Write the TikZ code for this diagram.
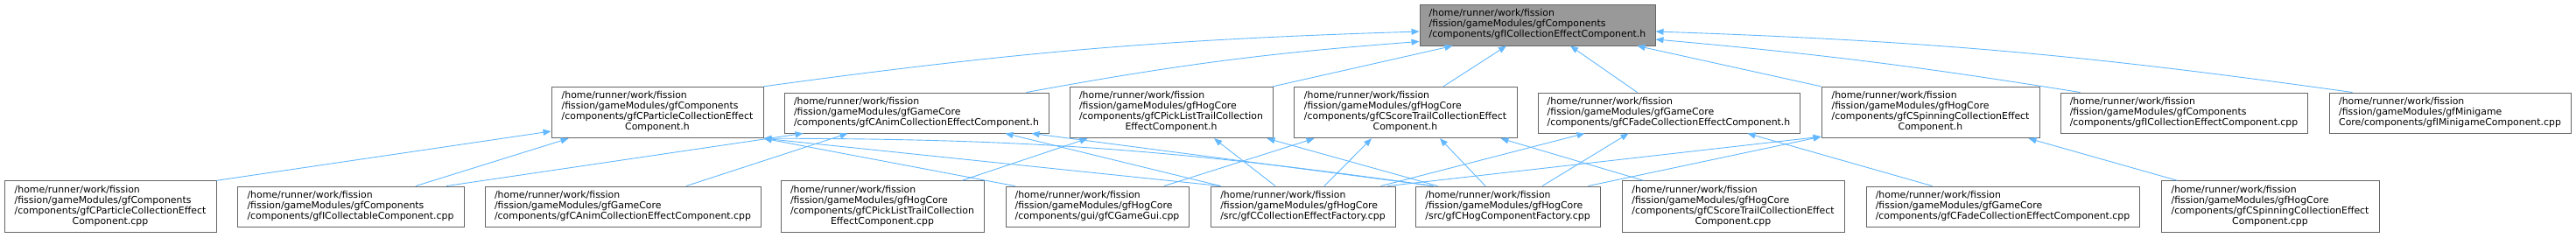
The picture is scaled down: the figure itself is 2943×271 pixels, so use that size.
\documentclass[tikz,border=0pt]{standalone}
\usepackage{fontspec}
\setmainfont{DejaVu Sans}
\usetikzlibrary{arrows.meta}
\definecolor{edgeblue}{HTML}{63B8FF}
\definecolor{boxgray}{HTML}{666666}
\definecolor{maingray}{HTML}{999999}
\newcommand{\flines}[1]{\begin{tabular}{@{}l@{}}#1\end{tabular}}
\newcommand{\lastc}[1]{\multicolumn{1}{@{}c@{}}{#1}}

\begin{document}
\begin{tikzpicture}[x=1pt, y=-1pt, >={Triangle[length=9pt,width=7pt]},
  file/.style={draw=boxgray, fill=white, line width=0.9pt, inner sep=0pt,
    font=\fontsize{10.9}{12}\selectfont},
  mainfile/.style={file, fill=maingray, minimum height=47pt},
  h3/.style={file, minimum height=46pt},
  h4/.style={file, minimum height=58.5pt},
  inc/.style={->, draw=edgeblue, line width=0.9pt}]
  \useasboundingbox (0,0) rectangle (2943,271);

  \node[mainfile, minimum width=269pt] (main) at (1756.5,28.5)
    {\flines{/home/runner/work/fission\\/fission/gameModules/gfComponents\\/components/gfICollectionEffectComponent.h}};

  \node[h4, minimum width=242pt] (parth) at (751,128.5)
    {\flines{/home/runner/work/fission\\/fission/gameModules/gfComponents\\/components/gfCParticleCollectionEffect\\\lastc{Component.h}}};
  \node[h3, minimum width=302pt] (animh) at (1047,129)
    {\flines{/home/runner/work/fission\\/fission/gameModules/gfGameCore\\/components/gfCAnimCollectionEffectComponent.h}};
  \node[h4, minimum width=232pt] (pickh) at (1338,128.5)
    {\flines{/home/runner/work/fission\\/fission/gameModules/gfHogCore\\/components/gfCPickListTrailCollection\\\lastc{EffectComponent.h}}};
  \node[h4, minimum width=255pt] (scoreh) at (1605.5,128.5)
    {\flines{/home/runner/work/fission\\/fission/gameModules/gfHogCore\\/components/gfCScoreTrailCollectionEffect\\\lastc{Component.h}}};
  \node[h3, minimum width=299pt] (fadeh) at (1906.5,129)
    {\flines{/home/runner/work/fission\\/fission/gameModules/gfGameCore\\/components/gfCFadeCollectionEffectComponent.h}};
  \node[h4, minimum width=249pt] (spinh) at (2205.5,128.5)
    {\flines{/home/runner/work/fission\\/fission/gameModules/gfHogCore\\/components/gfCSpinningCollectionEffect\\\lastc{Component.h}}};
  \node[h3, minimum width=282pt] (colcpp) at (2495,129)
    {\flines{/home/runner/work/fission\\/fission/gameModules/gfComponents\\/components/gfICollectionEffectComponent.cpp}};
  \node[h3, minimum width=276pt] (minicpp) at (2799,129)
    {\flines{/home/runner/work/fission\\/fission/gameModules/gfMinigame\\Core/components/gfIMinigameComponent.cpp}};

  \node[h4, minimum width=242pt] (partcpp) at (126,236)
    {\flines{/home/runner/work/fission\\/fission/gameModules/gfComponents\\/components/gfCParticleCollectionEffect\\\lastc{Component.cpp}}};
  \node[h3, minimum width=259pt] (collcpp) at (400.5,236)
    {\flines{/home/runner/work/fission\\/fission/gameModules/gfComponents\\/components/gfICollectableComponent.cpp}};
  \node[h3, minimum width=315pt] (animcpp) at (711.5,236)
    {\flines{/home/runner/work/fission\\/fission/gameModules/gfGameCore\\/components/gfCAnimCollectionEffectComponent.cpp}};
  \node[h4, minimum width=232pt] (pickcpp) at (1008,236)
    {\flines{/home/runner/work/fission\\/fission/gameModules/gfHogCore\\/components/gfCPickListTrailCollection\\\lastc{EffectComponent.cpp}}};
  \node[h3, minimum width=209pt] (guicpp) at (1253.5,236)
    {\flines{/home/runner/work/fission\\/fission/gameModules/gfHogCore\\/components/gui/gfCGameGui.cpp}};
  \node[h3, minimum width=211pt] (efact) at (1488.5,236)
    {\flines{/home/runner/work/fission\\/fission/gameModules/gfHogCore\\/src/gfCCollectionEffectFactory.cpp}};
  \node[h3, minimum width=211pt] (hfact) at (1722.5,236)
    {\flines{/home/runner/work/fission\\/fission/gameModules/gfHogCore\\/src/gfCHogComponentFactory.cpp}};
  \node[h4, minimum width=254pt] (scorecpp) at (1980,236)
    {\flines{/home/runner/work/fission\\/fission/gameModules/gfHogCore\\/components/gfCScoreTrailCollectionEffect\\\lastc{Component.cpp}}};
  \node[h3, minimum width=312pt] (fadecpp) at (2288,236)
    {\flines{/home/runner/work/fission\\/fission/gameModules/gfGameCore\\/components/gfCFadeCollectionEffectComponent.cpp}};
  \node[h4, minimum width=249pt] (spincpp) at (2593.5,236)
    {\flines{/home/runner/work/fission\\/fission/gameModules/gfHogCore\\/components/gfCSpinningCollectionEffect\\\lastc{Component.cpp}}};

  \draw[inc] (parth.north east) to[bend left=3] ([yshift=-7.5pt]main.west);
  \draw[inc] ([xshift=-26pt]animh.north east) to[bend left=3] ([yshift=5pt]main.south west);
  \draw[inc] (pickh.north east) -- ([xshift=38pt]main.south west);
  \draw[inc] ([xshift=43.5pt]scoreh.north) -- ([xshift=-35.5pt]main.south);
  \draw[inc] ([xshift=-36pt]fadeh.north) -- ([xshift=37.5pt]main.south);
  \draw[inc] (spinh.north west) -- ([xshift=-21pt]main.south east);
  \draw[inc] ([xshift=23pt]colcpp.north west) to[bend right=2] ([yshift=-16.5pt]main.east);
  \draw[inc] ([xshift=27pt]minicpp.north west) to[bend right=3] ([yshift=-7.5pt]main.east);

  \draw[inc] (partcpp.north east) -- ([yshift=-21.5pt]parth.west);
  \draw[inc] ([xshift=74.5pt]collcpp.north) -- ([xshift=20pt]parth.south west);
  \draw[inc] ([xshift=11pt]guicpp.north west) -- (parth.south east);
  \draw[inc] ([xshift=12pt]efact.north west) -- (parth.south east);
  \draw[inc] ([xshift=21pt]hfact.north west) to[bend right=4] (parth.south east);

  \draw[inc] ([xshift=109.5pt]collcpp.north) -- ([xshift=22pt]animh.south west);
  \draw[inc] ([xshift=72.5pt]animcpp.north) -- ([xshift=73pt]animh.south west);
  \draw[inc] ([xshift=12pt]efact.north west) -- ([xshift=-50pt]animh.south east);
  \draw[inc] ([xshift=21pt]hfact.north west) -- ([xshift=-20pt]animh.south east);

  \draw[inc] ([xshift=91pt]pickcpp.north) -- ([xshift=21pt]pickh.south west);
  \draw[inc] ([xshift=-31.5pt]efact.north) -- ([xshift=49pt]pickh.south);
  \draw[inc] ([xshift=26pt]hfact.north west) -- ([xshift=-7pt]pickh.south east);

  \draw[inc] ([xshift=76.5pt]guicpp.north) -- ([xshift=24pt]scoreh.south west);
  \draw[inc] ([xshift=24.5pt]efact.north) -- ([xshift=-38.5pt]scoreh.south);
  \draw[inc] ([xshift=-25.5pt]hfact.north) -- ([xshift=39.5pt]scoreh.south);
  \draw[inc] ([xshift=25pt]scorecpp.north west) -- ([xshift=-19pt]scoreh.south east);

  \draw[inc] ([xshift=-17pt]efact.north east) -- ([xshift=54pt]fadeh.south west);
  \draw[inc] ([xshift=39.5pt]hfact.north) -- ([xshift=104pt]fadeh.south west);
  \draw[inc] ([xshift=76pt]fadecpp.north west) -- ([xshift=-60pt]fadeh.south east);

  \draw[inc] ([xshift=-9pt]efact.north east) -- ([yshift=2pt]spinh.south west);
  \draw[inc] ([xshift=-14pt]hfact.north east) -- ([yshift=2pt]spinh.south west);
  \draw[inc] ([xshift=19pt]spincpp.north west) -- ([xshift=-13pt]spinh.south east);
\end{tikzpicture}
\end{document}
